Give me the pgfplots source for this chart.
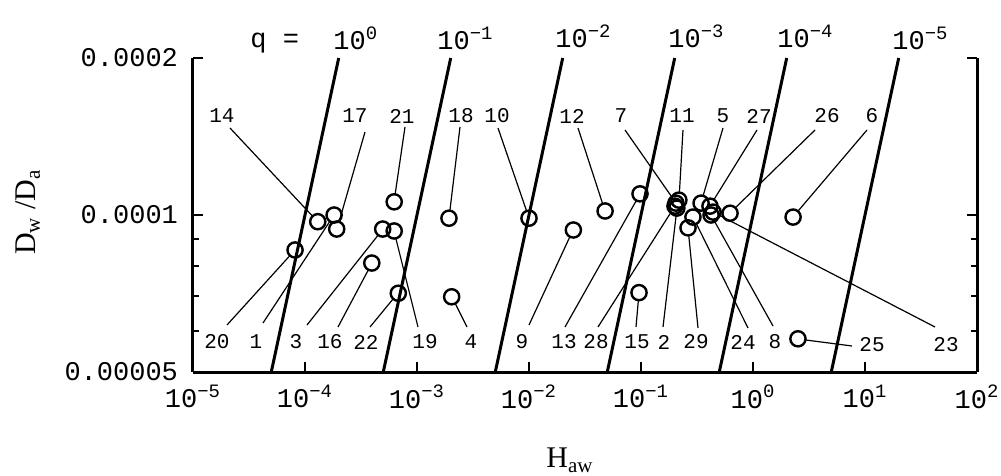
\documentclass[border=0pt]{standalone}
\usepackage{fontspec}
\setmainfont{Liberation Mono}
\newfontfamily\serif{Liberation Serif}
\usepackage{pgfplots}
\pgfplotsset{compat=1.18}

\newcommand\lbl{\fontsize{10.5}{12}\selectfont}
\newcommand\tkf{\fontsize{13.5}{15}\selectfont}

\begin{document}
\begin{tikzpicture}
\begin{axis}[
    scale only axis, width=392pt, height=157pt,
    xmode=log, ymode=log,
    xmin=1e-5, xmax=1e2, ymin=5e-5, ymax=2e-4,
    axis x line*=bottom, axis y line*=box,
    axis line style={line width=1.5pt, -},
    xtick={1e-5,1e-4,1e-3,1e-2,1e-1,1,10,100},
    xticklabels={10\textsuperscript{−5},10\textsuperscript{−4},10\textsuperscript{−3},10\textsuperscript{−2},
                 10\textsuperscript{−1},10\textsuperscript{0},10\textsuperscript{1},10\textsuperscript{2}},
    xminorticks=false,
    ytick={5e-5,1e-4,2e-4}, yticklabels={0.00005,0.0001,0.0002},
    minor ytick={6e-5,7e-5,8e-5,9e-5},
    tick align=inside,
    major tick length=5pt, minor tick length=3pt,
    tick style={line width=1pt, black},
    tick label style={font=\tkf},
    xticklabel style={yshift=-3pt},
    yticklabel style={xshift=-4pt},
    clip=false,
]
\coordinate (O) at (rel axis cs:0,0);
% q lines: H_aw = (D_w/D_a) / q
\addplot[line width=1.5pt] coordinates {(5e-5,5e-5) (2e-4,2e-4)};
\addplot[line width=1.5pt] coordinates {(5e-4,5e-5) (2e-3,2e-4)};
\addplot[line width=1.5pt] coordinates {(5e-3,5e-5) (2e-2,2e-4)};
\addplot[line width=1.5pt] coordinates {(5e-2,5e-5) (2e-1,2e-4)};
\addplot[line width=1.5pt] coordinates {(0.5,5e-5) (2,2e-4)};
\addplot[line width=1.5pt] coordinates {(5,5e-5) (20,2e-4)};
% compounds
\addplot[only marks, mark=o, mark size=3.8pt, mark options={line width=1.2pt}] coordinates {
(1.30e-4,9.71e-5)  % 14
(1.82e-4,1.00e-4)  % 1
(1.92e-4,9.40e-5)  % 17
(8.15e-5,8.57e-5)  % 20
(6.26e-4,1.06e-4)  % 21
(1.93e-3,9.86e-5)  % 18
(4.94e-4,9.40e-5)  % 3
(6.26e-4,9.32e-5)  % 19
(3.95e-4,8.09e-5)  % 16
(6.81e-4,7.08e-5)  % 22
(2.04e-3,6.97e-5)  % 4
(1.00e-2,9.86e-5)  % 10
(4.78e-2,1.018e-4) % 12
(2.49e-2,9.36e-5)  % 9
(9.8e-2,1.098e-4)  % 13
(9.6e-2,7.10e-5)   % 15
(0.205,1.054e-4)   % 7
(0.218,1.068e-4)   % 11
(0.209,1.031e-4)   % 2
(0.201,1.040e-4)   % 28
(0.263,9.45e-5)    % 29
(0.291,9.91e-5)    % 24
(0.344,1.054e-4)   % 5
(0.413,1.040e-4)   % 27
(0.422,1.00e-4)    % 8
(0.440,1.013e-4)   % 23
(0.624,1.008e-4)   % 26
(2.28,9.91e-5)     % 6
(2.52,5.79e-5)     % 25
};
\end{axis}

% annotations in picture pixels (axis box: x 193..977, y 58..372)
\begin{scope}[shift={(O)}, xshift=-96.5pt, yshift=186pt, x=0.5pt, y=-0.5pt]
\foreach \n/\x in {14/222,17/355,21/402,18/461,10/497,12/572,7/621,11/682,5/723,27/759,26/827,6/872}
  \node[font=\lbl] at (\x,116) {\n};
\foreach \n/\x in {20/217,1/256,3/296,16/330,22/366,19/425,4/471,9/522,13/564,28/596,15/637,2/664,29/696,24/743,8/775}
  \node[font=\lbl] at (\x,342) {\n};
\node[font=\lbl] at (872,345) {25};
\node[font=\lbl] at (946,345) {23};

\foreach \a/\b/\c/\d in {230/128/318/222, 365/132/337/229, 405/127/394/202, 460/127/449/218,
    498/128/529/218, 578/128/605/211, 625/130/676/203, 683/130/679/200, 723/128/701/203,
    757/130/710/206, 815/130/730/213, 867/130/793/217,
    227/325/295/250, 263/323/334/215, 307/325/383/229, 338/327/372/263, 370/327/398/293,
    418/327/394/231, 467/327/452/297, 529/325/573/230, 565/327/640/194, 598/327/675/206,
    636/327/639/293, 663/327/677/208, 698/328/688/228, 748/328/693/217, 773/326/711/215,
    852/346/798/339, 935/327/713/212}
  \draw[line width=0.6pt, shorten >=4pt] (\a,\b) -- (\c,\d);

\node[anchor=base west, inner sep=0, font=\tkf] at (250,48) {q =};
\foreach \k/\x/\y in {0/333/50, −1/437/50, −2/555/48, −3/668/48, −4/777/48, −5/892/50}
  \node[anchor=base west, inner sep=0, font=\tkf] at (\x,\y) {10\textsuperscript{\k}};

\node[rotate=90, font=\serif\fontsize{15}{18}\selectfont] at (28,212) {D\textsubscript{w} /D\textsubscript{a}};
\node[anchor=base west, inner sep=0, font=\serif\fontsize{15}{18}\selectfont] at (546,468) {H\textsubscript{aw}};

\pgfresetboundingbox
\path[use as bounding box] (0,0) rectangle (1001,476);
\end{scope}
\end{tikzpicture}
\end{document}
